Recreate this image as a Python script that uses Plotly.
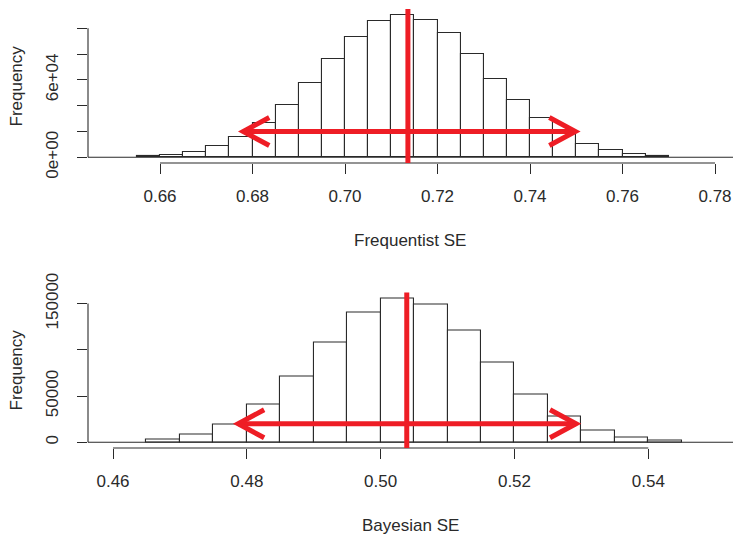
import plotly.graph_objects as go

# ---------------- data ----------------
bin_width = 0.005
freq_bin_starts = [0.655, 0.660, 0.665, 0.670, 0.675, 0.680, 0.685, 0.690, 0.695, 0.700,
                   0.705, 0.710, 0.715, 0.720, 0.725, 0.730, 0.735, 0.740, 0.745, 0.750,
                   0.755, 0.760, 0.765]
freq_counts = [1000, 2100, 4400, 9000, 16000, 26400, 40800, 57600, 76500, 93000,
               105400, 110600, 106200, 96300, 80100, 61000, 44200, 30200, 18500, 10700,
               5600, 2900, 1100]
freq_mean = 0.7136
freq_interval = [0.6780, 0.7498]
freq_arrow_level = 20000
freq_xticks = [0.66, 0.68, 0.70, 0.72, 0.74, 0.76, 0.78]
freq_yticks = [0, 20000, 40000, 60000, 80000, 100000]
freq_yticktext = ["0e+00", "", "", "6e+04", "", ""]

bayes_bin_starts = [0.465, 0.470, 0.475, 0.480, 0.485, 0.490, 0.495, 0.500, 0.505, 0.510,
                    0.515, 0.520, 0.525, 0.530, 0.535, 0.540]
bayes_counts = [2900, 8300, 19200, 40600, 71400, 107600, 140200, 155800, 148600, 121400,
                86200, 51800, 27900, 12700, 5400, 1600]
bayes_mean = 0.5039
bayes_interval = [0.4787, 0.5292]
bayes_arrow_level = 20000
bayes_xticks = [0.46, 0.48, 0.50, 0.52, 0.54]
bayes_yticks = [0, 50000, 100000, 150000]
bayes_yticktext = ["0", "50000", "", "150000"]

# ---------------- layout geometry ----------------
W, H = 733, 535
L = 88
plot_w = W - L
top_px = (9, 163)        # top, bottom pixel rows of upper plot
bot_px = (292.5, 448)
x1_left, x1_ppu = 0.64443, 4625.0
x2_left, x2_ppu = 0.45626, 6691.0
x1_range = [x1_left, x1_left + plot_w / x1_ppu]
x2_range = [x2_left, x2_left + plot_w / x2_ppu]
y1_range = [-4424, 115024]
y2_range = [-6232, 162030]

FONT = "Liberation Sans, Arial, sans-serif"
FS = 17
INK = "#2a2a2a"
RED = "#ee1d25"

def dom(px):
    return [1 - px[1] / H, 1 - px[0] / H]

fig = go.Figure()

def add_hist(starts, counts, xa, ya):
    fig.add_trace(go.Bar(
        x=[s + bin_width / 2 for s in starts], y=counts, width=bin_width,
        marker=dict(color="white", line=dict(color=INK, width=1.1)),
        xaxis=xa, yaxis=ya, showlegend=False, hoverinfo="x+y"))

add_hist(freq_bin_starts, freq_counts, "x", "y")
add_hist(bayes_bin_starts, bayes_counts, "x2", "y2")

shapes = []

def panel(xref, yref, xticks, yticks, mean, interval, level, xr, yr, px):
    # baseline across the plot
    shapes.append(dict(type="line", xref=xref + " domain", yref=yref, x0=0, x1=1,
                       y0=0, y1=0, line=dict(color=INK, width=1.1), layer="above"))
    # R style axis lines spanning the tick range
    shapes.append(dict(type="line", xref=xref, yref=yref + " domain", x0=xticks[0],
                       x1=xticks[-1], y0=0, y1=0, line=dict(color=INK, width=1.1)))
    shapes.append(dict(type="line", xref=xref + " domain", yref=yref, x0=0, x1=0,
                       y0=yticks[0], y1=yticks[-1], line=dict(color=INK, width=1.1)))
    # vertical mean line
    shapes.append(dict(type="line", xref=xref, yref=yref + " domain", x0=mean, x1=mean,
                       y0=0, y1=1, line=dict(color=RED, width=5), layer="above"))
    # horizontal interval arrow
    shapes.append(dict(type="line", xref=xref, yref=yref, x0=interval[0], x1=interval[1],
                       y0=level, y1=level, line=dict(color=RED, width=5), layer="above"))
    ux = (xr[1] - xr[0]) / plot_w
    uy = (yr[1] - yr[0]) / (px[1] - px[0])
    dx, dy = 26 * ux, 14 * uy
    for tip, sgn in ((interval[0], 1), (interval[1], -1)):
        path = (f"M {tip + sgn*dx},{level + dy} L {tip},{level} L {tip + sgn*dx},{level - dy}")
        shapes.append(dict(type="path", xref=xref, yref=yref, path=path,
                           line=dict(color=RED, width=5), layer="above"))

panel("x", "y", freq_xticks, freq_yticks, freq_mean, freq_interval, freq_arrow_level,
      x1_range, y1_range, top_px)
panel("x2", "y2", bayes_xticks, bayes_yticks, bayes_mean, bayes_interval, bayes_arrow_level,
      x2_range, y2_range, bot_px)

axis_common = dict(showgrid=False, zeroline=False, showline=False, ticks="outside",
                   ticklen=10, tickwidth=1.1, tickcolor=INK, automargin=False,
                   tickfont=dict(family=FONT, size=FS, color=INK), fixedrange=True)

def ax_x(px):
    return (px - L) / plot_w

def ax_y(py):
    return 1 - py / H

def label(text, px, py, angle=0):
    return dict(text=text, x=ax_x(px), y=ax_y(py), xref="paper", yref="paper",
                xanchor="center", yanchor="middle", showarrow=False, textangle=angle,
                font=dict(family=FONT, size=FS, color=INK))

annotations = [
    label("Frequentist SE", 410, 240),
    label("Bayesian SE", 410, 525),
    label("Frequency", 15.5, 86, -90),
    label("Frequency", 15.5, 370, -90),
]

fig.update_layout(
    width=W, height=H, margin=dict(l=L, r=0, t=0, b=0, autoexpand=False),
    paper_bgcolor="white", plot_bgcolor="white", bargap=0,
    xaxis=dict(axis_common, domain=[0, 1], range=x1_range, anchor="y",
               ticklabelstandoff=8,
               tickvals=freq_xticks, ticktext=[f"{v:.2f}" for v in freq_xticks]),
    yaxis=dict(axis_common, domain=dom(top_px), range=y1_range, anchor="x",
               ticklabelstandoff=12,
               tickvals=freq_yticks, ticktext=freq_yticktext, tickangle=-90),
    xaxis2=dict(axis_common, domain=[0, 1], range=x2_range, anchor="y2",
                ticklabelstandoff=8,
                tickvals=bayes_xticks, ticktext=[f"{v:.2f}" for v in bayes_xticks]),
    yaxis2=dict(axis_common, domain=dom(bot_px), range=y2_range, anchor="x2",
                ticklabelstandoff=12,
                tickvals=bayes_yticks, ticktext=bayes_yticktext, tickangle=-90),
    shapes=shapes, annotations=annotations,
)

fig.write_html("out.html", config={"displayModeBar": False},
               post_script="document.body.style.margin='0';document.body.style.overflow='hidden';")
